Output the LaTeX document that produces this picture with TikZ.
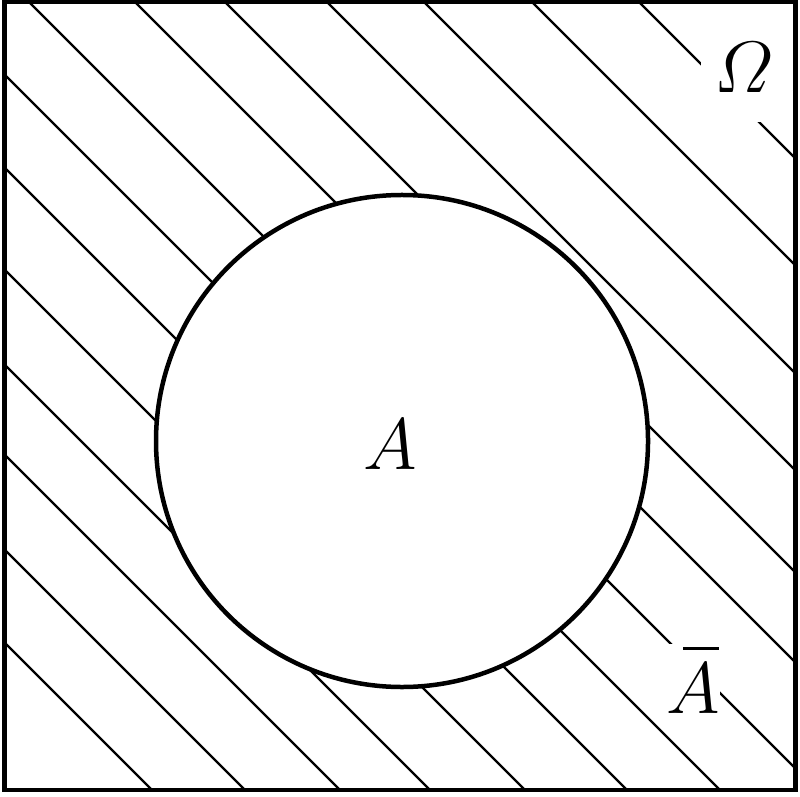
\documentclass[tikz,border=0pt]{standalone}
\usepackage{amsmath}
\begin{document}
\begin{tikzpicture}[x=0.1mm,y=0.1mm,
    hatch/.style={line width=0.22mm},
    rim/.style={line width=0.45mm},
    lbl/.style={font=\huge}]
    \useasboundingbox (0,0) rectangle (800,796);
    \begin{scope}
      \clip (4.5,6) rectangle (795.5,794);
      \foreach \d in {158,251,346,436,531,633,726,823,929,1019,1121,1218,1326,1433} {\draw[hatch] (\d-900,900) -- (\d+100,-100);}
    \end{scope}
    \fill[white] (402,355) circle[radius=246];
    \draw[rim] (402,355) circle[radius=246];
    \draw[rim] (4.5,6) rectangle (795.5,794);
    \node[lbl] (A) at (390,351) {$A$};
    \node[lbl,fill=white,inner sep=1.4mm,text depth=1.5mm,anchor=base] (omega) at (744,703) {$\varOmega$};
    \node[lbl,fill=white,inner sep=0pt,anchor=base] (Abar) at (693,83)
      {\rlap{\hspace{0.23em}$\overline{\rule{0pt}{0.75em}\hspace{0.49em}}$}$A$};
\end{tikzpicture}
\end{document}
